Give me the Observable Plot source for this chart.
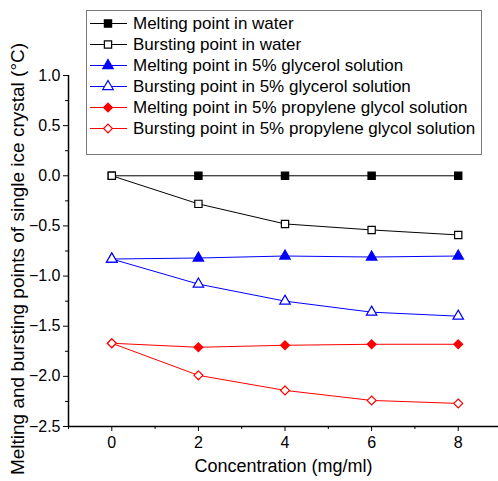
<!DOCTYPE html>
<html>
<head>
<meta charset="utf-8">
<script src="https://cdn.jsdelivr.net/npm/d3@7"></script>
<script src="https://cdn.jsdelivr.net/npm/@observablehq/plot@0.6"></script>
<style>
  html, body { margin: 0; padding: 0; background: #fff; }
  #chart { width: 498px; height: 481px; }
</style>
</head>
<body>
<div id="chart"></div>
<script>
// ---- data ----
const concentration = [0, 2, 4, 6, 8];
const meltWater = [0, 0, 0, 0, 0];
const burstWater = [0, -0.28, -0.48, -0.54, -0.59];
const meltGlycerol = [-0.83, -0.82, -0.80, -0.81, -0.80];
const burstGlycerol = [-0.83, -1.08, -1.25, -1.36, -1.40];
const meltPG = [-1.67, -1.71, -1.69, -1.68, -1.68];
const burstPG = [-1.67, -1.99, -2.14, -2.24, -2.27];

const seriesNames = [
  "Melting point in water",
  "Bursting point in water",
  "Melting point in 5% glycerol solution",
  "Bursting point in 5% glycerol solution",
  "Melting point in 5% propylene glycol solution",
  "Bursting point in 5% propylene glycol solution"
];
const seriesValues = [meltWater, burstWater, meltGlycerol, burstGlycerol, meltPG, burstPG];
const seriesColors = ["#000000", "#000000", "#0000ff", "#0000ff", "#ff0000", "#ff0000"];
const seriesSymbols = ["square", "square", "triangle", "triangle", "diamond2", "diamond2"];
const seriesFilled = [true, false, true, false, true, false];
const seriesR = [4.1, 4.1, 3.9, 3.9, 4.0, 4.0];

const xTicks = [0, 2, 4, 6, 8];
const xMinorTicks = [-1, 1, 3, 5, 7];
const yTicks = [-2.5, -2.0, -1.5, -1.0, -0.5, 0.0, 0.5, 1.0];
const yMinorTicks = [-2.25, -1.75, -1.25, -0.75, -0.25, 0.25, 0.75];

const xLabel = "Concentration (mg/ml)";
const yLabel = "Melting and bursting points of single ice crystal (°C)";

// ---- table ----
const rows = [];
seriesNames.forEach((name, i) => {
  concentration.forEach((c, j) => rows.push({series: i, name, x: c, y: seriesValues[i][j]}));
});

const W = 498, H = 481;
const marks = [];
seriesNames.forEach((name, i) => {
  const d = rows.filter(r => r.series === i);
  marks.push(Plot.line(d, {x: "x", y: "y", stroke: seriesColors[i], strokeWidth: 1}));
});
seriesNames.forEach((name, i) => {
  const d = rows.filter(r => r.series === i);
  marks.push(Plot.dot(d, {
    x: "x", y: "y", symbol: () => seriesSymbols[i], r: seriesR[i],
    fill: seriesFilled[i] ? seriesColors[i] : "white",
    stroke: seriesColors[i], strokeWidth: 1.2
  }));
});

const chart = Plot.plot({
  width: W,
  height: H,
  marginLeft: 68,
  marginRight: 0,
  marginTop: 75,
  marginBottom: 55,
  style: {fontFamily: "'Liberation Sans', Arial, sans-serif", fontSize: "16px", color: "#000", background: "#fff"},
  x: {domain: [-1, 8.93]},
  y: {domain: [-2.5, 1.0]},
  symbol: {type: "identity"},
  marks: [
    Plot.axisX({ticks: xTicks, tickSize: 5, tickPadding: 5, tickFormat: d3.format("d"), label: null, fontSize: 16}),
    Plot.axisX({ticks: xMinorTicks, tickSize: 3, tickFormat: () => "", label: null}),
    Plot.axisY({ticks: yTicks, tickSize: 5, tickPadding: 3, tickFormat: d3.format(".1f"), label: null, fontSize: 16}),
    Plot.axisY({ticks: yMinorTicks, tickSize: 3, tickFormat: () => "", label: null}),
    Plot.ruleY([-2.5], {stroke: "#000", strokeWidth: 1.5}),
    Plot.ruleX([-1], {stroke: "#000", strokeWidth: 1.5}),
    Plot.text([xLabel], {frameAnchor: "bottom", textAnchor: "middle", dy: 45, fontSize: 18, text: d => d}),
    Plot.text([yLabel], {frameAnchor: "left", textAnchor: "middle", dx: -51, dy: 8, rotate: -90, fontSize: 19, text: d => d}),
    ...marks
  ]
});
document.getElementById("chart").appendChild(chart);

// ---- legend (inside the chart svg) ----
const svg = d3.select(chart);
const lg = svg.append("g").attr("font-family", "'Liberation Sans', Arial, sans-serif").attr("font-size", 17).attr("text-anchor", "start");
lg.append("rect").attr("x", 86.5).attr("y", 10.5).attr("width", 395).attr("height", 144)
  .attr("fill", "white").attr("stroke", "#777").attr("stroke-width", 1);
seriesNames.forEach((name, i) => {
  const cy = 23.5 + i * 21;
  lg.append("line").attr("x1", 90).attr("x2", 127).attr("y1", cy).attr("y2", cy)
    .attr("stroke", seriesColors[i]).attr("stroke-width", 1);
  const sym = {square: d3.symbolSquare, triangle: d3.symbolTriangle, diamond2: d3.symbolDiamond2}[seriesSymbols[i]];
  const r = seriesR[i];
  lg.append("path").attr("d", d3.symbol(sym, Math.PI * r * r)())
    .attr("transform", `translate(108,${cy})`)
    .attr("fill", seriesFilled[i] ? seriesColors[i] : "white")
    .attr("stroke", seriesColors[i]).attr("stroke-width", 1.2);
  lg.append("text").attr("x", 133).attr("y", cy).attr("dy", "0.35em").attr("text-anchor", "start").attr("fill", "#000").text(name);
});
</script>
</body>
</html>
